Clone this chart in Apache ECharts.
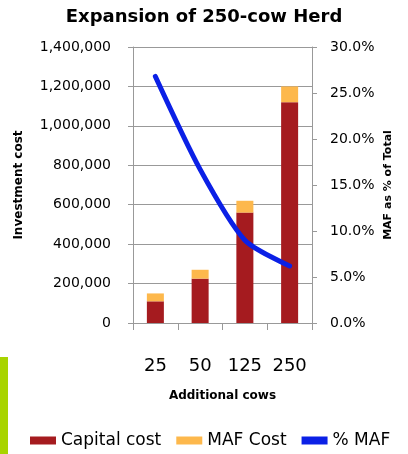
<!DOCTYPE html>
<html>
<head>
<meta charset="utf-8">
<script src="https://cdn.jsdelivr.net/npm/echarts@6/dist/echarts.min.js"></script>
<style>
html,body{margin:0;padding:0;background:#fff;}
#c{width:408px;height:454px;}
</style>
</head>
<body>
<div id="c"></div>
<script>
var categories = ['25', '50', '125', '250'];
var capitalCost = [110000, 225000, 560000, 1120000];
var mafCost = [40000, 45000, 60000, 80000];
var pctMaf = [26.8, 16.7, 9.0, 6.2];
var leftTicks = {min: 0, max: 1400000, interval: 200000};
var rightTicks = {min: 0, max: 30, interval: 5};

var FONT = 'DejaVu Sans';
var chart = echarts.init(document.getElementById('c'));
chart.setOption({
  animation: false,
  textStyle: {fontFamily: FONT, color: '#000'},
  title: {
    text: 'Expansion of 250-cow Herd',
    left: 'center',
    top: 3,
    textStyle: {fontFamily: FONT, fontSize: 18, fontWeight: 'bold', color: '#000'}
  },
  graphic: [{
    type: 'rect',
    shape: {x: 0, y: 357, width: 8, height: 97},
    style: {fill: '#a8d400'}
  }],
  legend: {
    top: 427,
    left: 25,
    itemGap: 15,
    itemWidth: 26,
    itemHeight: 8,
    textStyle: {fontFamily: FONT, fontSize: 17, color: '#000'},
    data: [
      {name: 'Capital cost', icon: 'rect'},
      {name: 'MAF Cost', icon: 'rect'},
      {name: '% MAF', icon: 'rect'}
    ]
  },
  grid: {left: 133, right: 96, top: 47, height: 276},
  xAxis: {
    type: 'category',
    data: categories,
    name: 'Additional cows',
    nameLocation: 'middle',
    nameGap: 67,
    nameTextStyle: {fontFamily: FONT, fontSize: 12, fontWeight: 'bold', color: '#000'},
    axisLine: {lineStyle: {color: '#999', width: 1}},
    axisTick: {show: true, length: 7, lineStyle: {color: '#999'}},
    axisLabel: {margin: 34, fontSize: 18, color: '#000', fontFamily: FONT}
  },
  yAxis: [{
    type: 'value',
    min: leftTicks.min, max: leftTicks.max, interval: leftTicks.interval,
    name: 'Investment cost',
    nameLocation: 'middle',
    nameGap: 108,
    nameTextStyle: {fontFamily: FONT, fontSize: 12, fontWeight: 'bold', color: '#000'},
    axisLine: {show: true, lineStyle: {color: '#999'}},
    axisTick: {show: true, length: 5, lineStyle: {color: '#999'}},
    splitLine: {show: true, lineStyle: {color: '#999', width: 1}},
    axisLabel: {
      margin: 22, fontSize: 14, color: '#000', fontFamily: FONT,
      formatter: function (v) { return v.toLocaleString('en-US'); }
    }
  }, {
    type: 'value',
    position: 'right',
    min: rightTicks.min, max: rightTicks.max, interval: rightTicks.interval,
    name: 'MAF as % of Total',
    nameLocation: 'middle',
    nameGap: 71,
    nameRotate: 90,
    nameTextStyle: {fontFamily: FONT, fontSize: 11, fontWeight: 'bold', color: '#000'},
    axisLine: {show: true, lineStyle: {color: '#999'}},
    axisTick: {show: true, length: 5, lineStyle: {color: '#999'}},
    splitLine: {show: false},
    axisLabel: {
      margin: 18, fontSize: 14, color: '#000', fontFamily: FONT,
      formatter: function (v) { return v.toFixed(1) + '%'; }
    }
  }],
  series: [{
    name: 'Capital cost',
    type: 'bar',
    stack: 'cost',
    barWidth: '38%',
    data: capitalCost,
    itemStyle: {color: '#a51b1f'}
  }, {
    name: 'MAF Cost',
    type: 'bar',
    stack: 'cost',
    barWidth: '38%',
    data: mafCost,
    itemStyle: {color: '#fdb84c'}
  }, {
    name: '% MAF',
    type: 'line',
    yAxisIndex: 1,
    data: pctMaf,
    smooth: 0.25,
    symbol: 'none',
    lineStyle: {color: '#0b20e6', width: 5, cap: 'round'},
    itemStyle: {color: '#0b20e6'}
  }]
});
</script>
</body>
</html>
